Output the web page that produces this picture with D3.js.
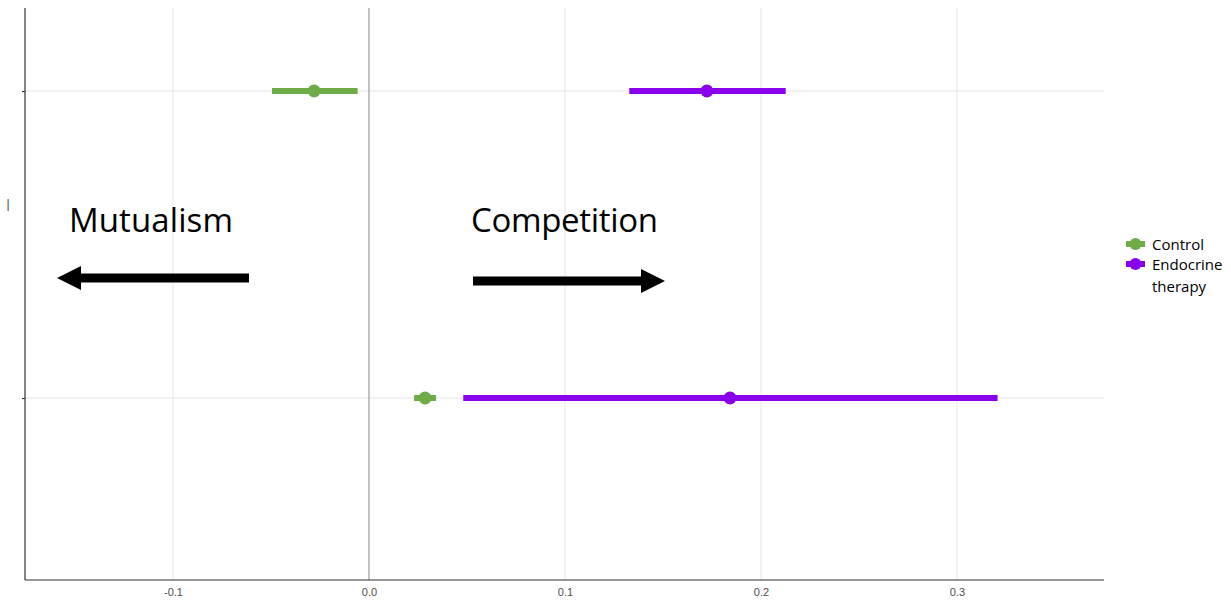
<!DOCTYPE html>
<html>
<head>
<meta charset="utf-8">
<script src="https://cdn.jsdelivr.net/npm/d3@7"></script>
<style>
  html, body { margin: 0; padding: 0; background: #fff; }
  svg { display: block; }
</style>
</head>
<body>
<svg id="chart" width="1231" height="603"></svg>
<script>
// Interaction coefficients per tumour pair, with confidence intervals
const pairs = ["pair1", "pair2"];
const groups = ["Control", "Endocrine therapy"];
const estimates = {
  "Control": [-0.028, 0.0286],
  "Endocrine therapy": [0.1724, 0.1842]
};
const lowerCI = {
  "Control": [-0.0495, 0.023],
  "Endocrine therapy": [0.1328, 0.0481]
};
const upperCI = {
  "Control": [-0.0058, 0.0342],
  "Endocrine therapy": [0.2126, 0.3207]
};
const xTicks = [-0.1, 0.0, 0.1, 0.2, 0.3];
const colors = { "Control": "#6dac47", "Endocrine therapy": "#8a00ec" };

const svg = d3.select("#chart");
const panel = { left: 25, right: 1104, top: 8, bottom: 580 };

const x = d3.scaleLinear()
  .domain([-0.1, 0.3])
  .range([173, 957]);

const y = d3.scalePoint()
  .domain(pairs)
  .range([91, 398]);

// grid
const grid = svg.append("g");
grid.selectAll("line.vx")
  .data(xTicks.filter(d => d !== 0))
  .join("line")
  .attr("x1", d => x(d)).attr("x2", d => x(d))
  .attr("y1", panel.top).attr("y2", panel.bottom)
  .attr("stroke", "#e6e6e6").attr("stroke-width", 1);
grid.selectAll("line.hy")
  .data(pairs)
  .join("line")
  .attr("x1", panel.left).attr("x2", panel.right)
  .attr("y1", d => y(d)).attr("y2", d => y(d))
  .attr("stroke", "#e6e6e6").attr("stroke-width", 1.2);

// zero reference line
svg.append("line")
  .attr("x1", x(0)).attr("x2", x(0))
  .attr("y1", panel.top).attr("y2", panel.bottom)
  .attr("stroke", "#9a9a9a").attr("stroke-width", 1.2);

// x axis
const fmt = d3.format(".1f");
const xAxis = svg.append("g")
  .attr("transform", `translate(0,${panel.bottom})`)
  .call(d3.axisBottom(x).tickValues(xTicks)
    .tickFormat(d => fmt(d).replace("\u2212", "-"))
    .tickSize(0).tickPadding(8));
xAxis.select(".domain").remove();
xAxis.selectAll("text")
  .attr("font-family", "Liberation Sans, Arial, sans-serif")
  .attr("font-size", 11)
  .attr("fill", "#4d4d4d");
svg.append("line")
  .attr("x1", panel.left).attr("x2", panel.right)
  .attr("y1", panel.bottom).attr("y2", panel.bottom)
  .attr("stroke", "#333").attr("stroke-width", 1.2);

// y axis (no labels)
const yAxis = svg.append("g")
  .attr("transform", `translate(${panel.left},0)`)
  .call(d3.axisLeft(y).tickSize(3).tickFormat(""));
yAxis.select(".domain").remove();
yAxis.selectAll("line").attr("stroke", "#333");
svg.append("line")
  .attr("x1", panel.left).attr("x2", panel.left)
  .attr("y1", panel.top).attr("y2", panel.bottom)
  .attr("stroke", "#333").attr("stroke-width", 1.2);

// y axis title
svg.append("text")
  .attr("x", 8).attr("y", 208)
  .attr("text-anchor", "middle")
  .attr("font-family", "Liberation Sans, Arial, sans-serif")
  .attr("font-size", 12)
  .attr("fill", "#444")
  .text("|");

// point ranges
const marks = svg.append("g");
groups.forEach(g => {
  const rows = pairs.map((p, i) => ({ p, est: estimates[g][i], lo: lowerCI[g][i], hi: upperCI[g][i] }));
  marks.selectAll(null).data(rows).join("line")
    .attr("x1", d => x(d.lo)).attr("x2", d => x(d.hi))
    .attr("y1", d => y(d.p)).attr("y2", d => y(d.p))
    .attr("stroke", colors[g]).attr("stroke-width", 6);
  marks.selectAll(null).data(rows).join("circle")
    .attr("cx", d => x(d.est)).attr("cy", d => y(d.p))
    .attr("r", 6.5)
    .attr("fill", colors[g]);
});

// annotations
const ann = svg.append("g").attr("font-family", "Open Sans, Noto Sans, sans-serif").attr("fill", "#000");
ann.append("text").attr("x", 69).attr("y", 232).attr("font-size", 33).attr("textLength", 164).text("Mutualism");
ann.append("text").attr("x", 471).attr("y", 232).attr("font-size", 33).attr("textLength", 187).text("Competition");

function arrow(x0, x1, yy) {
  const dir = Math.sign(x1 - x0);
  const head = 24, half = 12, shaft = 4.5;
  const xb = x1 - dir * head;
  const pts = [
    [x0, yy - shaft], [xb, yy - shaft], [xb, yy - half], [x1, yy],
    [xb, yy + half], [xb, yy + shaft], [x0, yy + shaft]
  ];
  svg.append("path").attr("d", d3.line()(pts) + "Z").attr("fill", "#000");
}
arrow(249, 57, 278);
arrow(473, 665, 281);

// legend
const legend = svg.append("g").attr("font-family", "Open Sans, Noto Sans, sans-serif");
const legendRows = [
  { g: "Control", y: 244, lines: ["Control"] },
  { g: "Endocrine therapy", y: 264, lines: ["Endocrine", "therapy"] }
];
legendRows.forEach(r => {
  legend.append("line")
    .attr("x1", 1126).attr("x2", 1145)
    .attr("y1", r.y).attr("y2", r.y)
    .attr("stroke", colors[r.g]).attr("stroke-width", 6);
  legend.append("circle").attr("cx", 1135.5).attr("cy", r.y).attr("r", 6).attr("fill", colors[r.g]);
  r.lines.forEach((t, i) => {
    legend.append("text")
      .attr("x", 1152).attr("y", r.y + 6 + i * 22)
      .attr("font-size", 15).attr("fill", "#000")
      .text(t);
  });
});
</script>
</body>
</html>
